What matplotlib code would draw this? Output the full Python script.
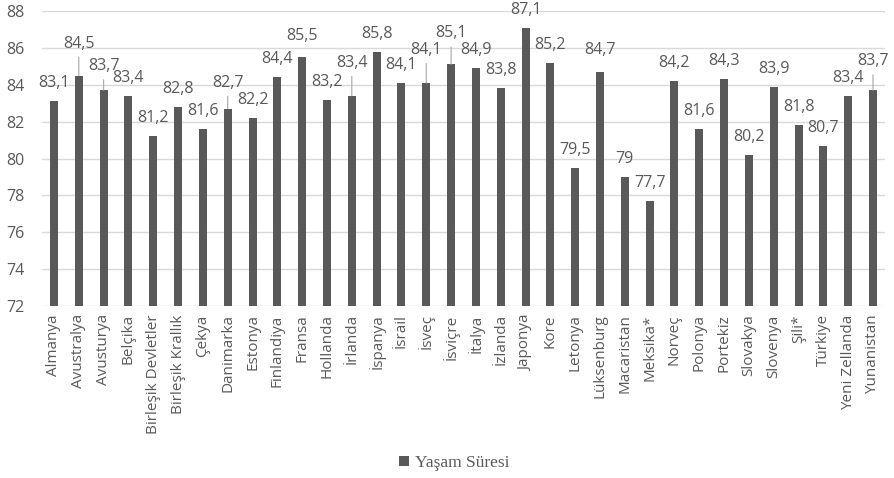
import matplotlib
matplotlib.use("Agg")
import matplotlib.pyplot as plt
from matplotlib.patches import Patch

countries = ["Almanya", "Avustralya", "Avusturya", "Belçika", "Birleşik Devletler",
             "Birleşik Krallık", "Çekya", "Danimarka", "Estonya", "Finlandiya",
             "Fransa", "Hollanda", "İrlanda", "İspanya", "İsrail", "İsveç", "İsviçre",
             "İtalya", "İzlanda", "Japonya", "Kore", "Letonya", "Lüksenburg",
             "Macaristan", "Meksika*", "Norveç", "Polonya", "Portekiz", "Slovakya",
             "Slovenya", "Şili*", "Türkiye", "Yeni Zellanda", "Yunanistan"]
life_expectancy = [83.1, 84.5, 83.7, 83.4, 81.2, 82.8, 81.6, 82.7, 82.2, 84.4,
                   85.5, 83.2, 83.4, 85.8, 84.1, 84.1, 85.1, 84.9, 83.8, 87.1,
                   85.2, 79.5, 84.7, 79.0, 77.7, 84.2, 81.6, 84.3, 80.2, 83.9,
                   81.8, 80.7, 83.4, 83.7]
y_ticks = [72, 74, 76, 78, 80, 82, 84, 86, 88]
series_name = "Yaşam Süresi"

# label placement: default lift above the bar top (pixels), some labels raised
default_lift = 18
raised_labels = {"Avustralya": 32, "Avusturya": 24, "Danimarka": 26, "İrlanda": 33,
                 "İsveç": 33, "İsviçre": 31, "Yunanistan": 29, "Fransa": 21,
                 "Lüksenburg": 22}
leader_lines = {"Avustralya", "Avusturya", "Danimarka", "İrlanda", "İsveç",
                "İsviçre", "Yunanistan"}

bar_color = "#595959"
text_color = "#595959"
grid_color = "#d9d9d9"

plt.rcParams["font.family"] = ["Open Sans", "DejaVu Sans"]

fig = plt.figure(figsize=(8.94, 4.78), dpi=100)
ax = fig.add_axes([0.0465, 0.3598, 0.9439, 0.6172])

x = list(range(len(countries)))
ax.bar(x, life_expectancy, width=0.32, color=bar_color, zorder=3)

ax.set_ylim(72, 88)
ax.set_xlim(-0.5, len(countries) - 0.5)
ax.set_yticks(y_ticks)
ax.set_yticklabels([str(t) for t in y_ticks])
ax.set_xticks(x)
ax.set_xticklabels(countries, rotation=90)
ax.tick_params(axis="y", length=0, pad=12, labelsize=11.5, labelcolor=text_color)
ax.tick_params(axis="x", length=0, pad=6, labelsize=11, labelcolor=text_color)
ax.yaxis.grid(True, color=grid_color, linewidth=1, zorder=0)
for s in ax.spines.values():
    s.set_visible(False)

for i, (name, v) in enumerate(zip(countries, life_expectancy)):
    label = f"{v:g}".replace(".", ",")
    lift = raised_labels.get(name, default_lift)
    arrow = None
    if name in leader_lines:
        arrow = dict(arrowstyle="-", color="#a6a6a6", lw=0.8, shrinkA=2, shrinkB=0)
    ax.annotate(label, xy=(i, v), xytext=(0, lift), textcoords="offset pixels",
                ha="center", va="center", fontsize=11.5, color=text_color,
                arrowprops=arrow, zorder=4, annotation_clip=False)

handle = Patch(facecolor=bar_color, edgecolor="none")
fig.legend([handle], [series_name], loc="center", bbox_to_anchor=(0.508, 0.031),
           frameon=False, handlelength=0.55, handleheight=0.55, handletextpad=0.35,
           prop={"family": "Liberation Serif", "size": 12.5}, labelcolor=text_color)

fig.savefig("out.png", dpi=100)
